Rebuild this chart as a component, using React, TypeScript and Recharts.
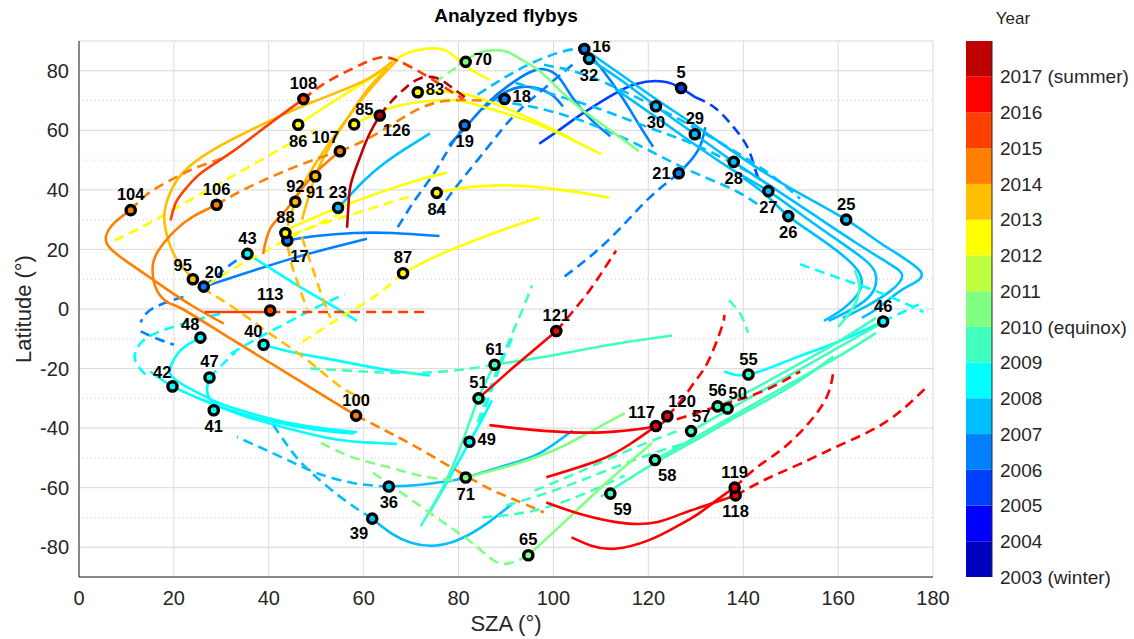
import {
  ComposedChart, Line, Scatter, XAxis, YAxis, CartesianGrid, BarChart, Bar,
} from "recharts";

type Pt = [number, number];

// jet(15), 2003 (bottom) .. 2017 (top)
const yearColors = [
  "#0000BF", "#0000FF", "#0040FF", "#0080FF", "#00BFFF", "#00FFFF", "#40FFBF", "#80FF80",
  "#BFFF40", "#FFFF00", "#FFBF00", "#FF8000", "#FF4000", "#FF0000", "#BF0000",
];
const yearLabels = [
  "2003 (winter)", "2004", "2005", "2006", "2007", "2008", "2009", "2010 (equinox)",
  "2011", "2012", "2013", "2014", "2015", "2016", "2017 (summer)",
];

const xTicks = [0, 20, 40, 60, 80, 100, 120, 140, 160, 180];
const yTicks = [-80, -60, -40, -20, 0, 20, 40, 60, 80];
const minorX = [0, 5, 10, 15, 20, 25, 30, 35, 40, 45, 50, 55, 60, 65, 70, 75, 80, 85, 90, 95, 100, 105, 110, 115, 120, 125, 130, 135, 140, 145, 150, 155, 160, 165, 170, 175, 180];
const minorY = [-90, -85, -80, -75, -70, -65, -60, -55, -50, -45, -40, -35, -30, -25, -20, -15, -10, -5, 0, 5, 10, 15, 20, 25, 30, 35, 40, 45, 50, 55, 60, 65, 70, 75, 80, 85, 90];

// flyby closest approach points
const flybyIds = [5, 16, 17, 18, 19, 20, 21, 23, 25, 26, 27, 28, 29, 30, 32, 36, 39, 40, 41, 42, 43, 46, 47, 48, 49, 50, 51, 55, 56, 57, 58, 59, 61, 65, 70, 71, 83, 84, 85, 86, 87, 88, 91, 92, 95, 100, 104, 106, 107, 108, 113, 117, 118, 119, 120, 121, 126];
const flybySza = [126.9, 106.5, 43.9, 89.7, 81.3, 26.3, 126.4, 54.6, 161.7, 149.5, 145.3, 138, 129.8, 121.6, 107.5, 65.3, 61.8, 38.9, 28.4, 19.7, 35.5, 169.5, 27.5, 25.6, 82.3, 136.7, 84.2, 141.1, 134.6, 129, 121.4, 112, 87.6, 94.7, 81.5, 81.5, 71.4, 75.4, 58, 46.2, 68.3, 43.5, 49.8, 45.6, 24, 58.4, 10.9, 29, 55, 47.3, 40.3, 121.6, 138.4, 138.2, 124, 100.6, 63.4];
const flybyLat = [74.2, 87.3, 23, 70.5, 61.7, 7.5, 45.6, 34, 30, 31.2, 39.6, 49.4, 58.7, 68.1, 84, -59.6, -70.4, -12, -34, -26, 18.5, -4.2, -23, -9.6, -44.6, -33.4, -30, -22, -32.7, -41, -50.7, -62, -18.7, -82.7, 83, -56.6, 72.8, 39, 62, 61.9, 12, 25.5, 44.6, 36, 10, -35.8, 33.2, 35, 53, 70.5, -0.5, -39.3, -62.6, -60, -36, -7.4, 65];
const flybyYear = [2005, 2006, 2006, 2006, 2006, 2006, 2006, 2007, 2007, 2007, 2007, 2007, 2007, 2007, 2007, 2007, 2007, 2008, 2008, 2008, 2008, 2008, 2008, 2008, 2008, 2009, 2009, 2009, 2009, 2009, 2009, 2009, 2009, 2010, 2010, 2010, 2012, 2012, 2012, 2012, 2012, 2012, 2013, 2013, 2013, 2014, 2014, 2014, 2014, 2015, 2015, 2016, 2016, 2016, 2016, 2016, 2017];

const labelSide: Record<number, string> = {
  86: "bottom", 91: "bottom", 84: "bottom", 19: "bottom", 32: "bottom", 30: "bottom", 28: "bottom",
  27: "bottom", 26: "bottom", 118: "bottom", 71: "bottom", 36: "bottom", 41: "bottom",
  17: "bottomRight", 58: "bottomRight", 59: "bottomRight", 126: "bottomRight", 39: "bottomLeft",
  83: "right", 70: "right", 18: "right", 16: "right", 49: "right", 21: "left",
  117: "topLeft", 40: "topLeft", 48: "topLeft", 42: "topLeft", 95: "topLeft", 107: "topLeft",
  85: "topRight", 20: "topRight", 50: "topRight", 120: "topRight", 57: "topRight",
};

// ---- trajectories [SZA, latitude] ----
// 2005
const f5: Pt[] = [[97, 55.5], [102, 61], [106, 65.5], [112, 71.5], [117.4, 75.6], [123, 76.4], [126.9, 74.2], [130, 71]];
const f5d: Pt[] = [[130, 71], [134, 67.6], [138, 61], [141, 54], [142.5, 47], [143.6, 42.6]];
// 2006
const f16: Pt[] = [[106.5, 87.3], [110, 81], [114.5, 71], [118, 62], [121, 54.5]];
const f18: Pt[] = [[78, 55], [82, 62], [86, 69], [90.5, 75], [95, 79.5], [98, 80.5], [101, 78], [104, 71], [108, 63.5], [112, 58]];
const f18b: Pt[] = [[85, 67], [89, 72], [93, 74.5], [97, 74], [100, 71.5], [102, 68]];
const f19d: Pt[] = [[81.3, 61.7], [78, 54], [75, 46], [71, 37], [67, 27]];
const f32d: Pt[] = [[104, 82], [98, 74], [93, 67], [89, 60], [84, 50], [79, 40], [75, 31]];
const f17: Pt[] = [[43.9, 23], [50, 24.5], [58, 25.5], [66, 25.5], [76, 24.5]];
const f20: Pt[] = [[26.3, 7.5], [35, 12], [45, 17], [53, 20.5], [60.7, 23.6]];
const f20d: Pt[] = [[26.3, 7.5], [29, 11], [32, 15], [35.5, 18.5]];
const f21: Pt[] = [[126.4, 45.6], [129, 50], [131, 55], [132, 61]];
const f21d: Pt[] = [[126.4, 45.6], [120, 37], [114, 27], [108, 18], [102, 10.5]];
const left06a: Pt[] = [[22, 4], [18, 2], [14.5, -1], [13, -4.5]];
const left06b: Pt[] = [[13, -7.5], [16.5, -10], [20, -12]];
// 2007
const f23: Pt[] = [[54.6, 34], [57, 38], [60, 43], [64, 48.5], [69, 54], [74, 59]];
const r25: Pt[] = [[106.5, 87.3], [114, 79], [121.6, 70.5], [130, 61.5], [140, 50.5], [150, 40.5], [161.7, 30], [170, 21], [177.5, 12.3], [174, 7], [169, 1], [165, -3]];
const r29: Pt[] = [[107.5, 84], [115, 76], [121.6, 68.1], [129.8, 58.7], [138, 49.4], [146, 41], [155, 31.5], [164, 22], [171, 15], [173.5, 11], [171, 6], [166, 1], [161, -3]];
const r27: Pt[] = [[113, 74], [122, 64], [130, 55], [138, 46.5], [145.3, 39.6], [152, 32], [160, 23], [166, 16], [168, 11], [167, 5], [163, 0], [158, -4]];
const r26: Pt[] = [[140, 44], [145, 38], [149.5, 31.2], [155, 25], [161, 18], [164.5, 12], [164.5, 6], [161, 0], [157, -4]];
const d07a: Pt[] = [[92, 76], [100, 72], [110, 67], [120, 61], [130, 55], [140, 47], [147, 40]];
const d07b: Pt[] = [[88, 70], [98, 67], [108, 62], [118, 55], [128, 47], [138, 40], [144, 34]];
const d07c: Pt[] = [[98, 82], [106, 79], [115, 73], [125, 65], [135, 56], [145, 46], [152, 37]];
const d07d: Pt[] = [[84, 72], [90, 78], [96, 83], [102, 86.5], [106, 87.5]];
const f36: Pt[] = [[65.3, -59.6], [72, -59], [77, -58], [81.5, -56.6], [90, -52.5], [97, -48.5], [104, -40.8]];
const f36d: Pt[] = [[65.3, -59.6], [58, -58.5], [50, -55], [43, -50], [33.3, -43]];
const f39: Pt[] = [[61.8, -70.4], [66, -75.5], [70, -78.5], [74.6, -79.5], [80, -77.5], [86, -72], [91.4, -65.3]];
const f39d: Pt[] = [[61.8, -70.4], [55, -63], [48, -53.5], [44, -46], [40.3, -37.4]];
// 2008
const f43: Pt[] = [[35.5, 18.5], [41, 13], [47, 7], [53, 1.5], [58.6, -4]];
const f40: Pt[] = [[38.9, -12], [45, -14.5], [55, -17.5], [65, -20.5], [74, -22.3]];
const f40d: Pt[] = [[32, -15], [38, -9.5], [44, -4.5], [50, 0.5], [56, 5]];
const f48: Pt[] = [[25.6, -9.6], [22, -13], [20, -17], [19.3, -22], [22.9, -26.3], [28, -30.5], [33, -33.5], [45, -38.5], [58.6, -41.4]];
const f42: Pt[] = [[15, -21], [19.7, -26], [26, -30.5], [35, -36], [45, -40.5], [55, -44], [67, -45.3]];
const f47: Pt[] = [[27.5, -23], [27, -27.5], [28, -31], [31, -33.5], [40, -37.5], [50, -40.5], [58, -41.8]];
const f47d: Pt[] = [[27.5, -23], [30, -19], [33, -14.5]];
const left08: Pt[] = [[14, -22], [12, -18], [12, -14], [14, -10], [18, -7], [24, -4], [30, -1.5]];
const f49: Pt[] = [[74, -68], [78, -57], [82.3, -44.6], [85, -37], [87, -30.7]];
const f49d: Pt[] = [[84.4, -38], [87, -27], [89, -18], [91.5, -9]];
const f55: Pt[] = [[136, -21], [141.1, -22], [150, -17], [160, -11], [169.5, -4.2]];
const f46d: Pt[] = [[169.5, -4.2], [173, -1.5], [177, 1.5]];
const d08: Pt[] = [[152, 15], [160, 10.5], [168, 6], [174, 2], [178, -1]];
// 2009
const f51: Pt[] = [[72, -73], [76, -62], [80, -48], [84.2, -30], [87.6, -18.7]];
const f51d: Pt[] = [[84, -38], [87, -25], [90, -13], [93, -2], [95.5, 8]];
const f61: Pt[] = [[87.6, -18.7], [100, -15.5], [112, -12], [125, -8.9]];
const f61d: Pt[] = [[48.7, -20], [60, -21], [70, -21.5], [80, -20.5], [87.6, -18.7]];
const f59: Pt[] = [[110, -63], [120, -53], [130, -44], [140, -35], [150, -26], [159, -16]];
const f58: Pt[] = [[121.4, -50.7], [130, -43], [140, -34], [150, -25], [160, -16], [168, -8]];
const f57: Pt[] = [[129, -41], [140, -31], [150, -22], [160, -13], [170, -4]];
const f56: Pt[] = [[134.6, -32.7], [142, -27], [150, -20], [160, -11], [168, -3]];
const hook09: Pt[] = [[160, -6], [163, 0], [164.5, 7], [163.5, 13]];
const d09a: Pt[] = [[96, -61], [105, -55], [115, -48], [126, -41]];
const d09b: Pt[] = [[90, -66], [100, -61], [110, -55], [120, -49], [128, -45]];
const d09c: Pt[] = [[85, -70], [95, -68], [105, -63], [115, -56]];
const d09e: Pt[] = [[137, 3], [139.5, -2], [141, -8]];
// 2010
const f65: Pt[] = [[94.7, -82.7], [102, -72], [110, -60], [120.8, -45]];
const f65d: Pt[] = [[62, -55], [70, -64], [78, -73], [84, -80], [89, -85.5], [94.7, -82.7]];
const f71: Pt[] = [[81.5, -56.6], [90, -53], [100, -47.5], [108, -41], [115, -35]];
const f70: Pt[] = [[80, 82], [83, 85], [86, 86.7], [90, 86.5], [93, 84], [97, 80], [101, 74], [106, 67], [112, 60], [118, 53]];
const f70d: Pt[] = [[75, 76], [78, 79.5], [81.5, 83]];
const d10: Pt[] = [[51, -45], [58, -50], [65, -53], [72, -56], [79, -57.5]];
// 2012
const f86: Pt[] = [[46.2, 61.9], [52, 68], [58, 74], [63, 79], [67, 84], [71, 86.8], [76, 87.4], [79, 85], [82, 81], [86.5, 77]];
const f85: Pt[] = [[58, 62], [63, 66], [68, 68.5], [75, 70], [80, 70], [85, 68], [95, 63], [105, 56], [110, 52]];
const f83: Pt[] = [[71.4, 72.8], [78, 73], [85, 70.5], [95, 64], [104, 57]];
const f84: Pt[] = [[75.4, 39], [80, 40.5], [88, 41.5], [96, 41], [104, 39.5], [111.7, 37.4]];
const f88: Pt[] = [[43, 26], [50, 31], [58, 36], [65, 40], [72, 43.5], [77.5, 45.8]];
const f88d: Pt[] = [[45, 25], [50, 28], [57, 31.5], [64, 35], [70.4, 38]];
const f87: Pt[] = [[68.3, 12], [73, 16], [78, 19.6], [85, 24], [91, 27.5], [97, 30.7]];
const f87d: Pt[] = [[68.3, 12], [63, 5], [57, -1], [52, -6], [46.6, -11.6]];
const d12a: Pt[] = [[7.5, 23], [15, 29], [25, 38], [35, 47], [45, 56], [50, 60]];
const d12b: Pt[] = [[27, 8], [33, 14], [40, 20], [47, 26], [55, 32]];
// 2013
const f95: Pt[] = [[24.9, 8.5], [20.5, 17], [18.5, 25], [18, 32], [19.5, 40], [23, 47.5], [30, 55], [40, 63], [50, 70], [60, 76.5], [66, 83]];
const f95d: Pt[] = [[26, 7], [33, 0], [40, -8], [48, -17], [55, -26], [60, -30]];
const f92: Pt[] = [[44, 28], [45.6, 36], [48, 44], [52, 54], [57, 65], [62, 75], [67, 83.5]];
const f91: Pt[] = [[47, 30], [49.8, 44.6], [53, 55], [57, 65], [61, 74], [65, 81]];
const d13a: Pt[] = [[47, 24], [48.5, 17], [50, 10], [51.5, 3], [53, -3]];
const d13b: Pt[] = [[44, 21], [45, 14], [46.5, 7], [48, 0]];
// 2014
const f104: Pt[] = [[10.9, 33.2], [7.5, 29], [5.7, 24.5], [6.5, 20.5], [10, 16], [15, 10.5], [20, 5], [25, 0], [30.5, -4.9]];
const f104d: Pt[] = [[10.9, 33.2], [14.5, 38.7], [19, 43], [24, 47], [30, 50.5]];
const f106: Pt[] = [[29, 35], [24, 31], [20, 26], [16.5, 19], [15.5, 13], [16.5, 6], [19, 2], [21.8, 0], [30, -8], [40, -17.8], [50, -27.6], [58.4, -35.8]];
const f100d: Pt[] = [[58.4, -35.8], [66, -42], [74, -49], [84.4, -58.6], [91, -63.5], [98, -68.3]];
const f106d: Pt[] = [[29, 35], [34, 39.5], [40, 44], [46, 48], [52, 51.5], [55, 53]];
const f107: Pt[] = [[55, 53], [51, 47.5], [47, 40.5], [43.5, 33], [40.3, 27], [38.8, 18.5]];
const f107d: Pt[] = [[55, 53], [60, 56.5], [66, 62], [72, 67.5], [78, 70], [85, 70]];
// 2015
const f108: Pt[] = [[19.3, 29.7], [20.5, 36], [22.7, 40.8], [26, 46], [32.5, 53], [40, 62], [47.3, 70.5]];
const f108d: Pt[] = [[47.3, 70.5], [52, 76], [58, 81], [63, 84.3], [67, 83.5], [72.5, 79], [77, 74.5], [81, 70.5]];
const f113: Pt[] = [[26.5, -1], [33, -1], [40.3, -1]];
const f113d: Pt[] = [[40.3, -1], [50, -1], [60, -1], [73, -1]];
// 2016
const f121: Pt[] = [[84.2, -30], [92, -19], [100.6, -7.4]];
const f121d: Pt[] = [[100.6, -7.4], [104, -1], [107.5, 6], [110.5, 13], [113.2, 19.6]];
const f117: Pt[] = [[86.5, -39], [95, -40.5], [106, -41.5], [114, -41], [121.6, -39.3], [124, -36]];
const f117b: Pt[] = [[98.5, -56.5], [109.6, -50.8], [116, -45.5], [121.6, -39.3]];
const f120d: Pt[] = [[124, -36], [127, -30.6], [130, -24], [132.7, -17.3], [135.5, -6], [136, -2]];
const f56d: Pt[] = [[126, -37], [132, -34], [138, -31], [145, -27], [152, -21]];
const f119: Pt[] = [[103.8, -76.7], [108, -79.5], [113, -80.5], [120, -77.7], [126, -73], [130.6, -68.7], [135, -63.5], [138.2, -60]];
const f119d: Pt[] = [[138.2, -60], [143, -53], [149, -46], [155, -36], [158, -28], [159, -21]];
const f118: Pt[] = [[98.5, -65], [106, -69], [115.3, -72], [122, -71.5], [127, -68.8], [133, -65.5], [138.4, -62.6]];
const f118d: Pt[] = [[138.4, -62.6], [145, -57], [152, -52], [160, -46], [170, -38], [178.3, -26.8]];
// 2017
const f126: Pt[] = [[56.5, 27.3], [56.8, 35], [57.3, 42], [59, 50], [61, 58], [63.4, 65]];
const f126d: Pt[] = [[63.4, 65], [66, 70], [69, 74.5], [72, 77.5], [75.5, 77.5], [78.5, 74.5], [81.5, 71]];

const tracks: { pts: Pt[]; year: number; dashed?: boolean }[] = [
  { pts: f5, year: 2005 }, { pts: f5d, year: 2005, dashed: true },
  { pts: f16, year: 2006 }, { pts: f18, year: 2006 }, { pts: f18b, year: 2006 },
  { pts: f19d, year: 2006, dashed: true }, { pts: f32d, year: 2006, dashed: true },
  { pts: f17, year: 2006 }, { pts: f20, year: 2006 }, { pts: f20d, year: 2006, dashed: true },
  { pts: f21, year: 2006 }, { pts: f21d, year: 2006, dashed: true },
  { pts: left06a, year: 2006, dashed: true }, { pts: left06b, year: 2006, dashed: true },
  { pts: d07a, year: 2007, dashed: true }, { pts: d07b, year: 2007, dashed: true },
  { pts: d07c, year: 2007, dashed: true }, { pts: d07d, year: 2007, dashed: true },
  { pts: f23, year: 2007 }, { pts: r25, year: 2007 }, { pts: r29, year: 2007 },
  { pts: r27, year: 2007 }, { pts: r26, year: 2007 },
  { pts: f36, year: 2007 }, { pts: f36d, year: 2007, dashed: true },
  { pts: f39, year: 2007 }, { pts: f39d, year: 2007, dashed: true },
  { pts: f43, year: 2008 }, { pts: f40, year: 2008 }, { pts: f40d, year: 2008, dashed: true },
  { pts: f48, year: 2008 }, { pts: f42, year: 2008 }, { pts: f47, year: 2008 },
  { pts: f47d, year: 2008, dashed: true }, { pts: left08, year: 2008, dashed: true },
  { pts: f49, year: 2008 }, { pts: f49d, year: 2008, dashed: true },
  { pts: f55, year: 2008 }, { pts: f46d, year: 2008, dashed: true }, { pts: d08, year: 2008, dashed: true },
  { pts: f51, year: 2009 }, { pts: f51d, year: 2009, dashed: true },
  { pts: f61, year: 2009 }, { pts: f61d, year: 2009, dashed: true },
  { pts: f59, year: 2009 }, { pts: f58, year: 2009 }, { pts: f57, year: 2009 },
  { pts: f56, year: 2009 }, { pts: hook09, year: 2009 },
  { pts: d09a, year: 2009, dashed: true }, { pts: d09b, year: 2009, dashed: true },
  { pts: d09c, year: 2009, dashed: true }, { pts: d09e, year: 2009, dashed: true },
  { pts: f65, year: 2010 }, { pts: f65d, year: 2010, dashed: true },
  { pts: f71, year: 2010 }, { pts: f70, year: 2010 }, { pts: f70d, year: 2010, dashed: true },
  { pts: d10, year: 2010, dashed: true },
  { pts: f86, year: 2012 }, { pts: f85, year: 2012 }, { pts: f83, year: 2012 },
  { pts: f84, year: 2012 }, { pts: f88, year: 2012 }, { pts: f88d, year: 2012, dashed: true },
  { pts: f87, year: 2012 }, { pts: f87d, year: 2012, dashed: true },
  { pts: d12a, year: 2012, dashed: true }, { pts: d12b, year: 2012, dashed: true },
  { pts: f95, year: 2013 }, { pts: f95d, year: 2013, dashed: true },
  { pts: f92, year: 2013 }, { pts: f91, year: 2013 },
  { pts: d13a, year: 2013, dashed: true }, { pts: d13b, year: 2013, dashed: true },
  { pts: f104, year: 2014 }, { pts: f104d, year: 2014, dashed: true },
  { pts: f106, year: 2014 }, { pts: f100d, year: 2014, dashed: true },
  { pts: f106d, year: 2014, dashed: true }, { pts: f107, year: 2014 },
  { pts: f107d, year: 2014, dashed: true },
  { pts: f108, year: 2015 }, { pts: f108d, year: 2015, dashed: true },
  { pts: f113, year: 2015 }, { pts: f113d, year: 2015, dashed: true },
  { pts: f121, year: 2016 }, { pts: f121d, year: 2016, dashed: true },
  { pts: f117, year: 2016 }, { pts: f117b, year: 2016 }, { pts: f120d, year: 2016, dashed: true },
  { pts: f56d, year: 2016, dashed: true },
  { pts: f119, year: 2016 }, { pts: f119d, year: 2016, dashed: true },
  { pts: f118, year: 2016 }, { pts: f118d, year: 2016, dashed: true },
  { pts: f126, year: 2017 }, { pts: f126d, year: 2017, dashed: true },
];

const colorOf = (year: number) => yearColors[year - 2003];

const flybyRows = flybyIds.map((id, i) => ({
  id, x: flybySza[i], y: flybyLat[i], year: flybyYear[i],
}));

const colorbarRow: Record<string, number | string> = { name: "c" };
yearColors.forEach((_, i) => { colorbarRow[`s${i}`] = 1; });

const FlybyMarker = (props: any) => {
  const { cx, cy, payload } = props;
  const side = labelSide[payload.id] ?? "top";
  let tx = cx, ty = cy - 10, anchor = "middle";
  if (side === "bottom") { ty = cy + 22; }
  else if (side === "bottomRight") { tx = cx + 3; ty = cy + 21; anchor = "start"; }
  else if (side === "bottomLeft") { tx = cx - 4; ty = cy + 20; anchor = "end"; }
  else if (side === "right") { tx = cx + 8; ty = cy + 3; anchor = "start"; }
  else if (side === "left") { tx = cx - 8; ty = cy + 6; anchor = "end"; }
  else if (side === "topLeft") { tx = cx - 1; ty = cy - 8; anchor = "end"; }
  else if (side === "topRight") { tx = cx + 1; ty = cy - 9; anchor = "start"; }
  return (
    <g>
      <circle cx={cx} cy={cy} r={4.6} fill={colorOf(payload.year)} stroke="#000" strokeWidth={3.4} />
      <text x={tx} y={ty} textAnchor={anchor} fontSize={16.5} fontWeight="bold" fill="#000">
        {payload.id}
      </text>
    </g>
  );
};

const axisText = { fontSize: 20, fill: "#262626" };

export default function App() {
  return (
    <div style={{ position: "absolute", left: 0, top: 0, width: 1134, height: 639, background: "#fff", fontFamily: "'Liberation Sans', Arial, sans-serif" }}>
      <div style={{ position: "absolute", top: 5, left: 79, width: 854, textAlign: "center", fontSize: 19, fontWeight: "bold", color: "#000" }}>
        Analyzed flybys
      </div>
      <div style={{ position: "absolute", top: 9, left: 978, width: 70, textAlign: "center", fontSize: 17, color: "#262626" }}>
        Year
      </div>

      <div style={{ position: "absolute", left: 0, top: 0 }}>
        <ComposedChart width={950} height={639} margin={{ top: 41, right: 17, bottom: 0, left: 19 }}>
          <XAxis xAxisId="minor" type="number" domain={[0, 180]} ticks={minorX} hide allowDataOverflow />
          <YAxis yAxisId="minor" type="number" domain={[-90, 90]} ticks={minorY} hide allowDataOverflow />
          <CartesianGrid xAxisId="minor" yAxisId="minor" stroke="#cfcfcf" strokeDasharray="1 3" />
          <CartesianGrid stroke="#dcdcdc" />
          <XAxis
            dataKey="x" type="number" domain={[0, 180]} ticks={xTicks} allowDataOverflow
            height={62} tickSize={0} tickMargin={14} tick={axisText} stroke="#262626"
            label={{ value: "SZA (°)", position: "insideBottom", offset: 8, style: { fontSize: 22, fill: "#262626" } }}
          />
          <YAxis
            dataKey="y" type="number" domain={[-90, 90]} ticks={yTicks} allowDataOverflow
            width={60} tickSize={0} tickMargin={10} tick={axisText} stroke="#262626"
            label={{ value: "Latitude (°)", angle: -90, position: "insideLeft", offset: 4, style: { textAnchor: "middle", fontSize: 22, fill: "#262626" } }}
          />
          <XAxis xAxisId="top" orientation="top" type="number" domain={[0, 180]} height={0} tick={false} stroke="#262626" />
          <YAxis yAxisId="right" orientation="right" type="number" domain={[-90, 90]} width={0} tick={false} stroke="#262626" />
          {tracks.map((t, i) => (
            <Line
              key={i}
              data={t.pts.map(([x, y]) => ({ x, y }))}
              dataKey="y"
              type="natural"
              stroke={colorOf(t.year)}
              strokeWidth={2.6}
              strokeDasharray={t.dashed ? "10 6" : undefined}
              dot={false}
              activeDot={false}
              isAnimationActive={false}
            />
          ))}
          <Scatter data={flybyRows} dataKey="y" shape={<FlybyMarker />} isAnimationActive={false} />
        </ComposedChart>
      </div>

      <div style={{ position: "absolute", left: 958, top: 0 }}>
        <BarChart width={176} height={639} data={[colorbarRow]} barCategoryGap={0} margin={{ top: 41, right: 0, bottom: 62, left: 8 }}>
          <XAxis dataKey="name" height={0} tick={false} stroke="#262626" />
          <XAxis xAxisId="top" dataKey="name" orientation="top" height={0} tick={false} stroke="#262626" />
          <YAxis
            orientation="right" type="number" domain={[0, 15]} ticks={[0, 1, 2, 3, 4, 5, 6, 7, 8, 9, 10, 11, 12, 13, 14]}
            width={142} tickSize={0} tickMargin={8} stroke="#262626"
            tick={{ fontSize: 19, fill: "#262626", textAnchor: "start" }}
            tickFormatter={(v: number) => yearLabels[v]}
            interval={0}
          />
          <YAxis yAxisId="l" orientation="left" type="number" domain={[0, 15]} width={0} tick={false} stroke="#262626" />
          {yearColors.map((c, i) => (
            <Bar key={i} dataKey={`s${i}`} stackId="c" fill={c} isAnimationActive={false} />
          ))}
        </BarChart>
      </div>
    </div>
  );
}
